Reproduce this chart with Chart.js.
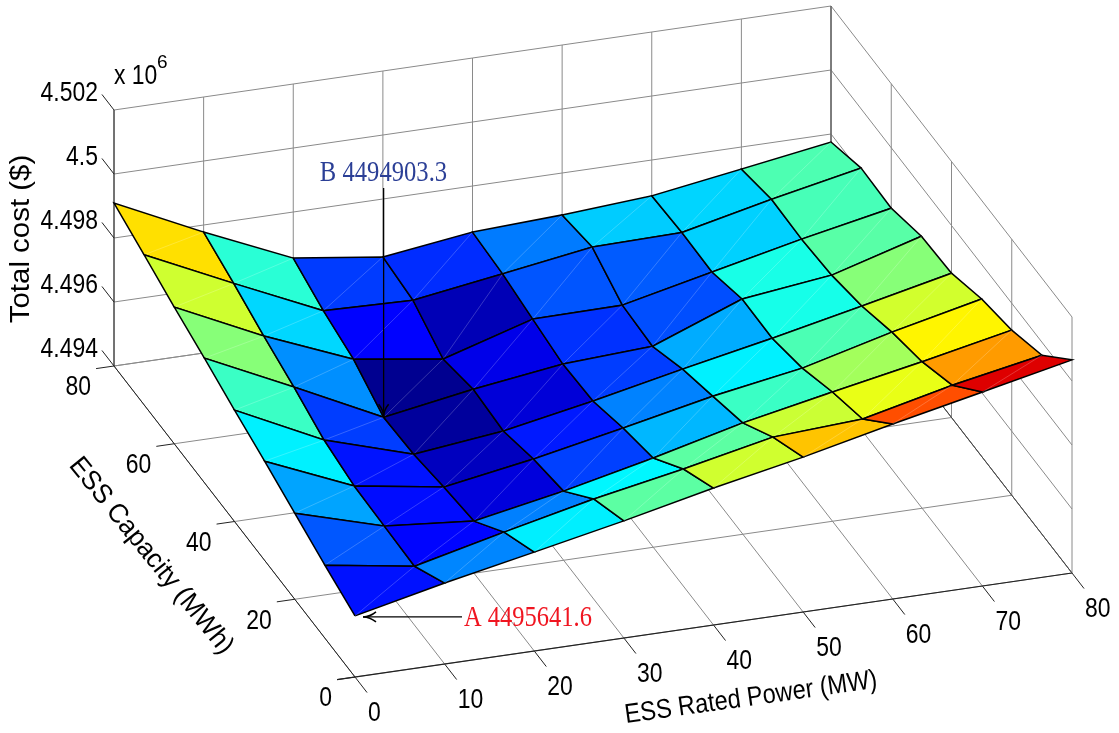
<!DOCTYPE html>
<html>
<head>
<meta charset="utf-8">
<title>Total cost surface</title>
<script src="https://cdn.jsdelivr.net/npm/chart.js@4"></script>
<style>
  html, body { margin: 0; padding: 0; background: #fff; }
  canvas { display: block; }
</style>
</head>
<body>
<canvas id="surfaceChart" width="1119" height="733"></canvas>
<script>
// values, one list per capacity row
const powerValues = [0, 10, 20, 30, 40, 50, 60, 70, 80];
const capacityValues = [0, 10, 20, 30, 40, 50, 60, 70, 80];
const costCap0 = [4495910, 4496530, 4497090, 4497660, 4498280, 4498840, 4499470, 4500060, 4500660];
const costCap10 = [4496280, 4495840, 4496500, 4497130, 4497660, 4498250, 4498410, 4499060, 4499590];
const costCap20 = [4496690, 4495880, 4495630, 4496160, 4496790, 4497480, 4498040, 4498580, 4499160];
const costCap30 = [4497100, 4495920, 4495480, 4495950, 4496510, 4497100, 4497570, 4498290, 4498920];
const costCap40 = [4497480, 4496140, 4495290, 4495610, 4496140, 4496730, 4497290, 4497890, 4498510];
const costCap50 = [4497890, 4496580, 4495230, 4495700, 4496080, 4496230, 4497300, 4497640, 4498450];
const costCap60 = [4498270, 4496960, 4495830, 4495430, 4496270, 4496300, 4496930, 4497550, 4498110];
const costCap70 = [4498690, 4497390, 4496130, 4496050, 4496470, 4496900, 4496950, 4497580, 4498150];
const costCap80 = [4499090, 4497780, 4496560, 4496190, 4496560, 4496690, 4496880, 4497310, 4497750];
const costRows = [costCap0, costCap10, costCap20, costCap30, costCap40, costCap50, costCap60, costCap70, costCap80];

const powerTicks = [0, 10, 20, 30, 40, 50, 60, 70, 80];
const capacityTicks = [0, 20, 40, 60, 80];
const costTicks = [4494000, 4496000, 4498000, 4500000, 4502000];
const costTickLabels = ['4.494', '4.496', '4.498', '4.5', '4.502'];
const colorRange = [4495140, 4500560];

// the view is a plain axonometric projection
const costBase = 4494000;
function project(p, c, z) {
  return {
    x: 355 + p * 8.9625 - c * 3.0125,
    y: 677 - p * 1.3 - c * 3.8875 - (z - costBase) * 0.032
  };
}

// jet colormap
function jet(z) {
  const t = Math.min(1, Math.max(0, (z - colorRange[0]) / (colorRange[1] - colorRange[0])));
  const ch = v => Math.round(255 * Math.min(1, Math.max(0, v)));
  return `rgb(${ch(Math.min(4 * t - 1.5, 4.5 - 4 * t))},${ch(Math.min(4 * t - 0.5, 3.5 - 4 * t))},${ch(Math.min(4 * t + 0.5, 2.5 - 4 * t))})`;
}

const datasets = [];
let nextOrder = 5000;
function addLine(points, color, width) {
  datasets.push({
    data: points, showLine: true, fill: false, borderColor: color, borderWidth: width,
    pointRadius: 0, tension: 0, order: nextOrder--
  });
}

// Grid on floor and back walls
const gridColor = '#8a8a8a';
const axisColor = '#222';
const costMax = costTicks[costTicks.length - 1];
powerTicks.forEach(p => {
  addLine([project(p, 0, costBase), project(p, 80, costBase), project(p, 80, costMax)], gridColor, 1);
  addLine([project(p, -4, costBase), project(p, 0, costBase)], axisColor, 1);
});
capacityTicks.forEach(c => {
  addLine([project(0, c, costBase), project(80, c, costBase), project(80, c, costMax)], gridColor, 1);
  addLine([project(-2, c, costBase), project(0, c, costBase)], axisColor, 1);
});
costTicks.forEach(z => {
  addLine([project(0, 80, z), project(80, 80, z), project(80, 0, z)], gridColor, 1);
  addLine([project(0, 84, z), project(0, 80, z)], axisColor, 1);
});
addLine([project(0, 80, costBase), project(0, 80, costMax)], axisColor, 1);
addLine([project(80, 80, costBase), project(80, 80, costMax)], '#555', 1);
addLine([project(-2, 0, costBase), project(80, 0, costBase)], axisColor, 1.2);
addLine([project(0, 0, costBase), project(0, 80, costBase)], axisColor, 1);
addLine([project(80, 0, costBase), project(80, 80, costBase)], '#444', 1);

// Surface, back row first so nearer faces cover it
for (let j = capacityValues.length - 2; j >= 0; j--) {
  for (let i = 0; i < powerValues.length - 1; i++) {
    const p0 = powerValues[i], p1 = powerValues[i + 1];
    const c0 = capacityValues[j], c1 = capacityValues[j + 1];
    const a = project(p0, c0, costRows[j][i]);
    const b = project(p1, c0, costRows[j][i + 1]);
    const d = project(p1, c1, costRows[j + 1][i + 1]);
    const e = project(p0, c1, costRows[j + 1][i]);
    datasets.push({
      data: [a, b, d, e, a], showLine: true, fill: 'shape', backgroundColor: jet(costRows[j][i]),
      borderColor: '#000', borderWidth: 1.5, pointRadius: 0, tension: 0, order: nextOrder--
    });
    addLine([a, d], 'rgba(255,255,255,0.3)', 0.7);
  }
}

// Callout arrows
const arrowB = project(20, 50, costCap50[2]);
const arrowA = project(0, 0, costCap0[0]);
addLine([{ x: arrowB.x, y: 188 }, arrowB], '#000', 1.3);
addLine([{ x: arrowA.x + 8, y: arrowA.y + 1 }, { x: 462, y: arrowA.y + 1 }], '#000', 1.3);

function drawHead(ctx, x, y, dx, dy) {
  // open stealth head pointing along (dx,dy)
  const nx = -dy, ny = dx;
  ctx.beginPath();
  ctx.moveTo(x - dx * 13 + nx * 5, y - dy * 13 + ny * 5);
  ctx.quadraticCurveTo(x - dx * 7, y - dy * 7, x, y);
  ctx.quadraticCurveTo(x - dx * 7, y - dy * 7, x - dx * 13 - nx * 5, y - dy * 13 - ny * 5);
  ctx.strokeStyle = '#000';
  ctx.lineWidth = 1.5;
  ctx.stroke();
}

function drawText(ctx, str, x, y, o) {
  ctx.save();
  ctx.translate(x, y);
  ctx.rotate((o.rot || 0) * Math.PI / 180);
  ctx.scale(o.sx || 1, 1);
  ctx.font = `${o.size}px ${o.family || '"Liberation Sans", Arial, sans-serif'}`;
  ctx.fillStyle = o.color || '#000';
  ctx.textAlign = o.align || 'center';
  ctx.textBaseline = 'middle';
  ctx.fillText(str, 0, 0);
  ctx.restore();
}

const labelsPlugin = {
  id: 'labels',
  afterDraw(chart) {
    const ctx = chart.ctx;
    const sx = chart.scales.x, sy = chart.scales.y;
    const at = (p, c, z) => {
      const q = project(p, c, z);
      return { x: sx.getPixelForValue(q.x), y: sy.getPixelForValue(q.y) };
    };
    const tick = { size: 27, sx: 0.85 };
    powerTicks.forEach(p => {
      const q = at(p, 0, costBase);
      drawText(ctx, String(p), q.x + 13, q.y + 37, { ...tick, align: 'left' });
    });
    capacityTicks.forEach(c => {
      const q = at(0, c, costBase);
      drawText(ctx, String(c), q.x - 23, q.y + 22, { ...tick, align: 'right' });
    });
    costTicks.forEach((z, i) => {
      const q = at(0, 80, z);
      drawText(ctx, costTickLabels[i], q.x - 16, q.y - 16, { ...tick, align: 'right' });
    });
    drawText(ctx, 'x 10', 114, 77, { size: 27, sx: 0.85, align: 'left' });
    drawText(ctx, '6', 157, 63, { size: 19, align: 'left' });

    drawText(ctx, 'Total cost ($)', 22, 239, { size: 27, sx: 1.09, rot: -90 });
    drawText(ctx, 'ESS Capacity (MWh)', 151, 556, { size: 27, sx: 0.96, rot: 51 });
    drawText(ctx, 'ESS Rated Power (MW)', 751, 698, { size: 27, sx: 0.875, rot: -8 });

    const serif = '"Liberation Serif", "Times New Roman", serif';
    drawText(ctx, 'B 4494903.3', 383.5, 173, { size: 29, sx: 0.85, family: serif, color: '#2b3f96' });
    drawText(ctx, 'A 4495641.6', 528, 618, { size: 29, sx: 0.845, family: serif, color: '#f01520' });

    const tipB = at(20, 50, costCap50[2]);
    drawHead(ctx, tipB.x, tipB.y, 0, 1);
    const tipA = at(0, 0, costCap0[0]);
    drawHead(ctx, tipA.x + 8, tipA.y + 1, -1, 0);
  }
};

new Chart(document.getElementById('surfaceChart'), {
  type: 'scatter',
  data: { datasets },
  options: {
    responsive: false,
    animation: false,
    layout: { padding: 0 },
    plugins: { legend: { display: false }, tooltip: { enabled: false } },
    scales: {
      x: { type: 'linear', display: false, min: 0, max: 1119 },
      y: { type: 'linear', display: false, min: 0, max: 733, reverse: true }
    }
  },
  plugins: [labelsPlugin]
});
</script>
</body>
</html>
